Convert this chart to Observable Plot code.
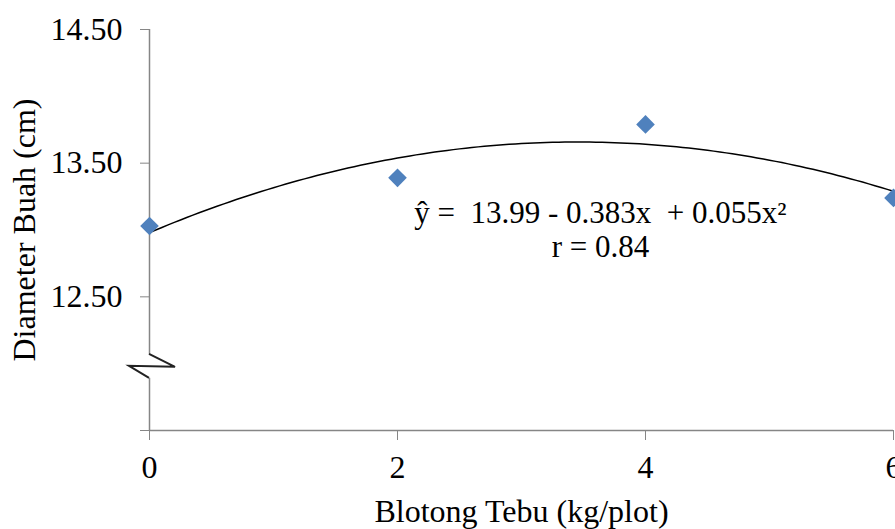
<!DOCTYPE html>
<html>
<head>
<meta charset="utf-8">
<script src="https://cdn.jsdelivr.net/npm/d3@7"></script>
<script src="https://cdn.jsdelivr.net/npm/@observablehq/plot@0.6"></script>
<style>
  html, body { margin: 0; padding: 0; background: #fff; }
</style>
</head>
<body>
<div id="chart"></div>
<script>
// Data
const dosis = [0, 2, 4, 6];
const diameter = [13.03, 13.39, 13.79, 13.24];
const yTicks = [11.5, 12.5, 13.5, 14.5];
const xTicks = [0, 2, 4, 6];
const equationLines = ["ŷ =\u00A0\u00A013.99 - 0.383x\u00A0\u00A0+ 0.055x²", "r = 0.84"];
const equationX = [3.637, 3.637];
const equationY = [13.128, 12.87];
const breakAt = 11.98;
const xLabel = "Blotong Tebu (kg/plot)";
const yLabel = "Diameter Buah (cm)";

const points = dosis.map((d, i) => ({x: d, y: diameter[i]}));

// Quadratic least-squares trendline fitted to the points
function quadFit(xs, ys) {
  let S = [0,0,0,0,0], T = [0,0,0];
  xs.forEach((x, i) => {
    for (let k = 0; k < 5; k++) S[k] += Math.pow(x, k);
    for (let k = 0; k < 3; k++) T[k] += ys[i] * Math.pow(x, k);
  });
  const A = [[S[0],S[1],S[2],T[0]],[S[1],S[2],S[3],T[1]],[S[2],S[3],S[4],T[2]]];
  for (let c = 0; c < 3; c++) {
    for (let r = c + 1; r < 3; r++) {
      const f = A[r][c] / A[c][c];
      for (let k = c; k < 4; k++) A[r][k] -= f * A[c][k];
    }
  }
  const coef = [0,0,0];
  for (let r = 2; r >= 0; r--) {
    let s = A[r][3];
    for (let k = r + 1; k < 3; k++) s -= A[r][k] * coef[k];
    coef[r] = s / A[r][r];
  }
  return coef;
}
const [c0, c1, c2] = quadFit(dosis, diameter);
const trend = d3.range(0, 6.0001, 0.05).map(x => ({x, y: c0 + c1 * x + c2 * x * x}));

const axisColor = "#868686";

const chart = Plot.plot({
  width: 895,
  height: 529,
  marginLeft: 149,
  marginRight: 2,
  marginTop: 29,
  marginBottom: 99,
  x: {domain: [0, 6]},
  y: {domain: [11.5, 14.5]},
  marks: [
    Plot.axisY({
      ticks: yTicks,
      tickFormat: d => d === 11.5 ? "" : d3.format(".2f")(d),
      tickSize: 9,
      tickPadding: 18,
      stroke: axisColor,
      fill: "#000",
      fontSize: 32,
      label: null
    }),
    Plot.axisX({
      ticks: xTicks,
      tickFormat: d => String(d),
      tickSize: 10,
      tickPadding: 15,
      stroke: axisColor,
      fill: "#000",
      fontSize: 32,
      label: null
    }),
    Plot.ruleX([0], {stroke: axisColor, strokeWidth: 1.5}),
    Plot.ruleY([11.5], {stroke: axisColor, strokeWidth: 1.5}),
    Plot.line(trend, {x: "x", y: "y", stroke: "#000", strokeWidth: 1.5}),
    Plot.dot(points, {x: "x", y: "y", symbol: "diamond2", r: 8.4, fill: "#4F81BD", stroke: "none"}),
    Plot.text(equationLines, {
      x: (d, i) => equationX[i],
      y: (d, i) => equationY[i],
      text: d => d,
      fontSize: 31,
      fill: "#000",
      textAnchor: "middle",
      lineAnchor: "middle"
    }),
    Plot.text([xLabel], {frameAnchor: "bottom", dy: 81.5, textAnchor: "middle", lineAnchor: "middle", fontSize: 32, fill: "#000"}),
    Plot.text([yLabel], {frameAnchor: "left", dx: -125, rotate: -90, textAnchor: "middle", lineAnchor: "middle", fontSize: 32, fill: "#000"})
  ]
});

// Serif typeface on every text, set inline
d3.select(chart).style("font-family", "'Liberation Serif', 'Times New Roman', serif");
d3.select(chart).selectAll("g, text").style("font-family", "'Liberation Serif', 'Times New Roman', serif");

// Axis break symbol on the y axis
const sx = chart.scale("x"), sy = chart.scale("y");
const xb = sx.apply(0), yb = sy.apply(breakAt);
const g = d3.select(chart).append("g");
g.append("rect").attr("x", xb - 22).attr("y", yb - 12).attr("width", 50).attr("height", 24).attr("fill", "#fff");
g.append("path")
  .attr("d", `M${xb},${yb - 12}L${xb + 26},${yb + 1}L${xb - 20},${yb}L${xb},${yb + 12}`)
  .attr("fill", "none").attr("stroke", "#222").attr("stroke-width", 2).attr("stroke-linejoin", "miter");

document.getElementById("chart").appendChild(chart);
</script>
</body>
</html>
